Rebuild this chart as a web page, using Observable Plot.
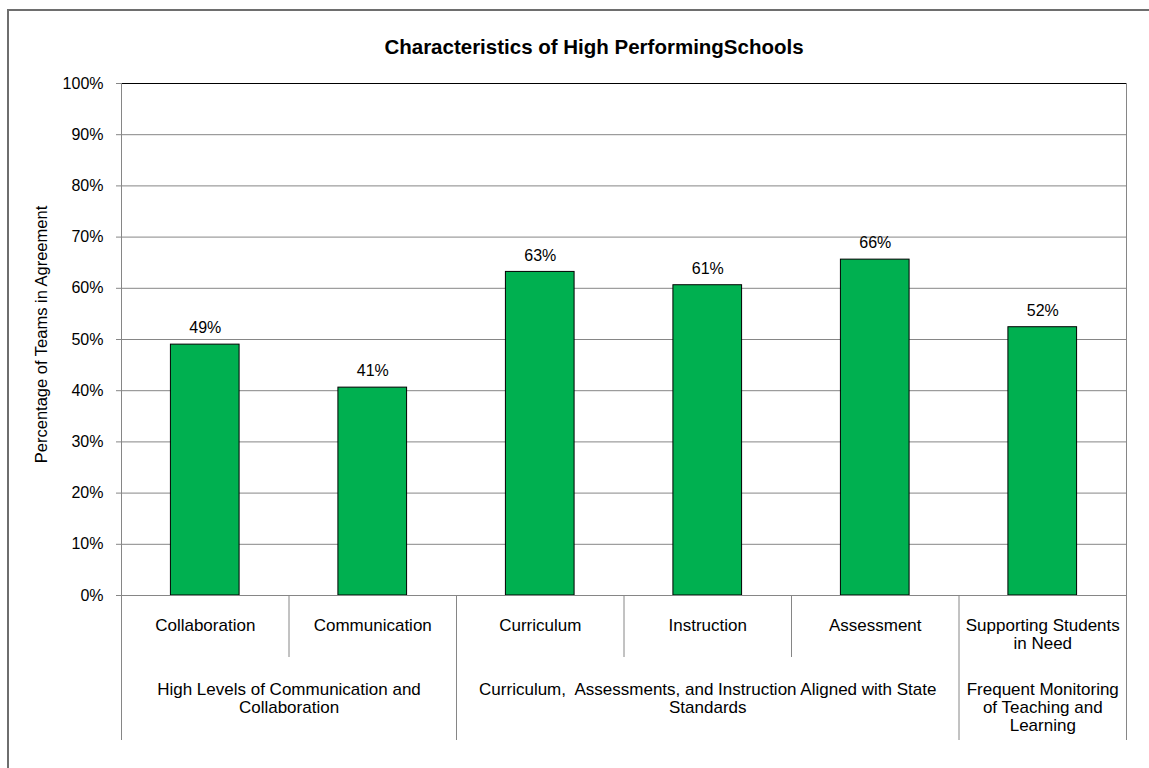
<!DOCTYPE html>
<html><head><meta charset="utf-8">
<script src="https://cdn.jsdelivr.net/npm/d3@7"></script>
<script src="https://cdn.jsdelivr.net/npm/@observablehq/plot@0.6"></script>
<style>
body{margin:0;background:#fff;}
#wrap{position:relative;width:1149px;height:768px;overflow:hidden;background:#fff;}
#chart{position:absolute;left:0;top:0;}
#border{position:absolute;left:7px;top:9px;width:1200px;height:800px;border-left:2px solid #6e6e6e;border-top:2px solid #6e6e6e;pointer-events:none;}
</style></head><body>
<div id="wrap"><div id="chart"></div><div id="border"></div></div>
<script>
const title = "Characteristics of High PerformingSchools";
const yLabel = "Percentage of Teams in Agreement";
const categories = ["Collaboration", "Communication", "Curriculum", "Instruction", "Assessment", "Supporting Students\nin Need"];
const values = [0.490, 0.406, 0.632, 0.606, 0.656, 0.524];
const groups = ["High Levels of Communication and\nCollaboration", "Curriculum,  Assessments, and Instruction Aligned with State\nStandards", "Frequent Monitoring\nof Teaching and\nLearning"];
const groupSizes = [2, 3, 1];
const yTicks = [0, 0.1, 0.2, 0.3, 0.4, 0.5, 0.6, 0.7, 0.8, 0.9, 1];

const W = 1149, H = 768, mL = 121, mR = 23, mT = 83, mB = 173;
const plotH = H - mT - mB;
const font = "'Liberation Sans', Arial, sans-serif";
const grid = "#868686";

const data = categories.map((c, i) => ({cat: c, i, value: values[i]}));
let acc = 0;
const groupData = groups.map((g, k) => { const s = acc; acc += groupSizes[k]; return {name: g, start: s, end: acc}; });
const edges = [0, acc];
const groupBounds = groupData.map(g => g.start).filter(b => b > 0);
const innerBounds = d3.range(1, categories.length).filter(b => !groupBounds.includes(b));
const pct = d3.format(".0%");

const chart = Plot.plot({
  width: W, height: H,
  marginLeft: mL, marginRight: mR, marginTop: mT, marginBottom: mB,
  style: {fontFamily: font, fontSize: "16px", color: "#000", background: "transparent"},
  x: {type: "linear", domain: [0, categories.length], axis: null},
  y: {domain: [0, 1]},
  marks: [
    Plot.gridY(yTicks, {stroke: grid, strokeOpacity: 1}),
    Plot.ruleY([1], {stroke: "#000", strokeWidth: 1.2}),
    Plot.axisY({ticks: yTicks, tickFormat: pct, tickSize: 5, tickPadding: 13, label: null, stroke: grid, fontSize: 16}),
    Plot.rectY(data, {x1: d => d.i + 0.295, x2: d => d.i + 0.705, y: "value", fill: "#00b050", stroke: "#000", strokeWidth: 1}),
    Plot.ruleY([0], {stroke: grid}),
    Plot.ruleX(edges, {x: d => d, insetBottom: -145, stroke: grid}),
    Plot.ruleX(groupBounds, {x: d => d, insetTop: plotH, insetBottom: -145, stroke: grid}),
    Plot.ruleX(innerBounds, {x: d => d, insetTop: plotH, insetBottom: -62, stroke: grid}),
    Plot.text(data, {x: d => d.i + 0.5, y: "value", text: d => pct(d.value), dy: -16.5, fontSize: 16}),
    Plot.text(data, {x: d => d.i + 0.5, text: "cat", frameAnchor: "bottom", lineAnchor: "top", dy: 22, lineHeight: 1.09, fontSize: 17}),
    Plot.text(groupData, {x: d => (d.start + d.end) / 2, text: "name", frameAnchor: "bottom", lineAnchor: "top", dy: 86, lineHeight: 1.08, fontSize: 17}),
    Plot.text([title], {frameAnchor: "top", dx: -30, dy: -36, lineAnchor: "middle", fontWeight: "bold", fontSize: 20.5}),
    Plot.text([yLabel], {frameAnchor: "left", rotate: -90, dx: -80, dy: -5, textAnchor: "middle", lineAnchor: "middle", fontSize: 16.5})
  ]
});
document.getElementById("chart").appendChild(chart);
</script>
</body></html>
